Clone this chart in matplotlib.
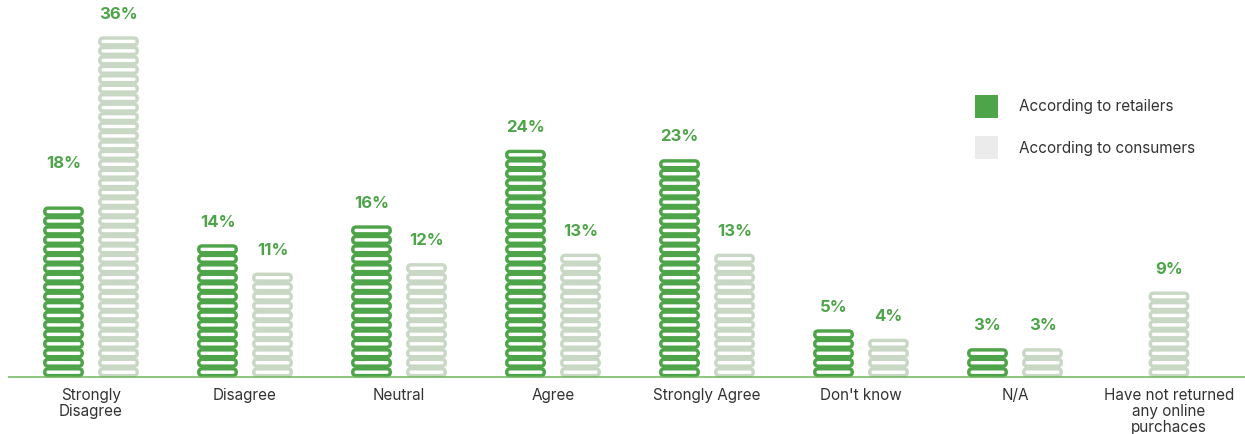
import matplotlib.pyplot as plt
from matplotlib.patches import FancyBboxPatch, Rectangle

categories = ["Strongly\nDisagree", "Disagree", "Neutral", "Agree", "Strongly Agree",
              "Don't know", "N/A", "Have not returned\nany online\npurchaces"]
retailers = [18, 14, 16, 24, 23, 5, 3, None]
consumers = [36, 11, 12, 13, 13, 4, 3, 9]
series_names = ["According to retailers", "According to consumers"]

GREEN = "#4ea449"
PALE = "#c9d7c5"
LINE = "#6cb55c"
TEXT = "#333333"
plt.rcParams["font.family"] = ["Inter", "DejaVu Sans"]

W, H = 1245, 434
fig = plt.figure(figsize=(W / 100, H / 100), dpi=100)
ax = fig.add_axes([0, 0, 1, 1])
ax.set_axis_off()

# one x unit = one category (154 px), one y unit = one percent (9.45 px)
px_x, px_y = 154.0, 9.45
x0_px, base_px = 91.0, 377.0
ax.set_xlim(-x0_px / px_x, (W - x0_px) / px_x)
ax.set_ylim(-(H - base_px) / px_y, base_px / px_y)

bar_w = 37.5 / px_x
offset = 27.5 / px_x
rnd = 3.4 / px_x
aspect = px_x / px_y
lw = 3.4 * 72 / 100


def stack(xc, value, color):
    # each percent is one rounded pill
    for k in range(value):
        ax.add_patch(FancyBboxPatch((xc - bar_w / 2, k + 0.15), bar_w, 0.72,
                                    boxstyle=f"round,pad=0,rounding_size={rnd}",
                                    mutation_aspect=aspect, facecolor="white",
                                    edgecolor=color, linewidth=lw, zorder=2))


def pct_label(xc, value, lift=2.4):
    ax.text(xc, value + lift, f"{value}%", ha="center", va="center",
            fontsize=12, fontweight="bold", color=GREEN)


for i, (r, c) in enumerate(zip(retailers, consumers)):
    if r is None:
        stack(i, c, PALE)
        pct_label(i, c)
        continue
    stack(i - offset, r, GREEN)
    stack(i + offset, c, PALE)
    pct_label(i - offset, r, 4.6 if i == 0 else 2.4)
    pct_label(i + offset, c)

ax.plot([(8 - x0_px) / px_x, (W - x0_px) / px_x], [0, 0], color=LINE,
        linewidth=1.1, zorder=3, solid_capstyle="butt")

for i, name in enumerate(categories):
    ax.text(i, -11 / px_y, name, ha="center", va="top", fontsize=11,
            color=TEXT, linespacing=1.1)

# legend
for j, (name, color) in enumerate(zip(series_names, [GREEN, "#ebebeb"])):
    top = 95 + j * 41
    fig.patches.append(Rectangle((975 / W, 1 - (top + 23) / H), 23 / W, 23 / H,
                                 transform=fig.transFigure, facecolor=color,
                                 edgecolor="none"))
    fig.text(1019 / W, 1 - (top + 12) / H, name, ha="left", va="center",
             fontsize=11, color=TEXT)

fig.savefig("out.png", dpi=100, facecolor="white")
